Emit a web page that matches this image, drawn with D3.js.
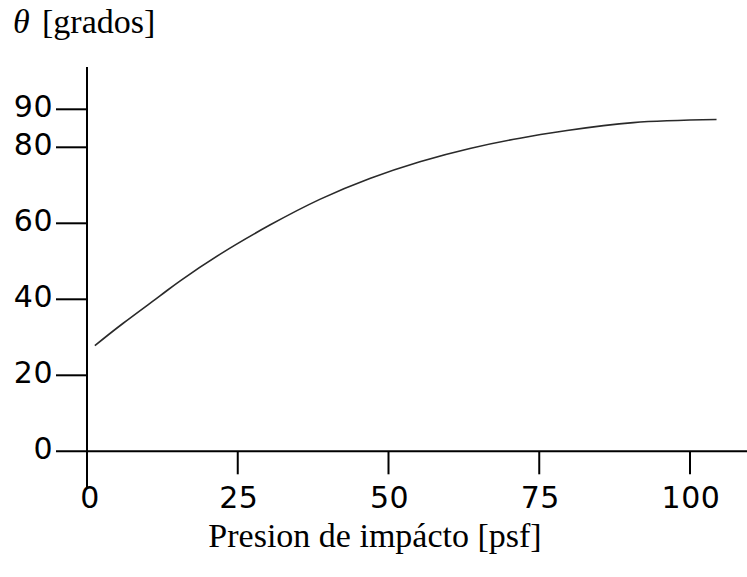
<!DOCTYPE html>
<html>
<head>
<meta charset="utf-8">
<script src="https://cdn.jsdelivr.net/npm/d3@7"></script>
<style>
  body { margin: 0; background: #fff; }
  .tick-label { font-family: "DejaVu Sans", Verdana, sans-serif; font-size: 30px; fill: #000; letter-spacing: 0.5px; }
  .title { font-family: "Liberation Serif", "Times New Roman", serif; font-size: 34px; fill: #000; }
</style>
</head>
<body>
<div id="chart"></div>
<script>
// ---- Data
const pressure = [1.3, 6.0, 12.1, 15.4, 22.1, 30.4, 38.6, 46.9, 55.2, 63.5, 71.8, 79.6, 90.6, 104.4];
const angle    = [27.8, 33.7, 40.9, 44.8, 51.9, 59.6, 66.3, 71.8, 76.2, 79.7, 82.4, 84.4, 86.5, 87.3];
const xTicks = [0, 25, 50, 75, 100];
const yTicks = [0, 20, 40, 60, 80, 90];
const yTitleSymbol = 'θ';
const yTitleUnit = '[grados]';
const xTitle = 'Presion de impácto [psf]';

const W = 747, H = 577;

const svg = d3.select('#chart').append('svg')
    .attr('width', W).attr('height', H);

// ---- Scales
const x = d3.scaleLinear().domain([0, 100]).range([87, 690]);
const y = d3.scaleLinear().domain([0, 90]).range([451.3, 109.3]);

// ---- Axis lines
const axisG = svg.append('g').attr('stroke', '#000').attr('stroke-width', 2);

// y axis, runs a bit below the x axis
axisG.append('line')
    .attr('x1', x(0)).attr('x2', x(0))
    .attr('y1', 67).attr('y2', 487);

// x axis, starts where the y ticks start
axisG.append('line')
    .attr('x1', 56).attr('x2', W)
    .attr('y1', y(0)).attr('y2', y(0));

// y ticks (outside, to the left)
axisG.selectAll('.ytick').data(yTicks.filter(d => d !== 0)).join('line')
    .attr('class', 'ytick')
    .attr('x1', 56).attr('x2', x(0))
    .attr('y1', d => y(d)).attr('y2', d => y(d));

// x ticks (hanging down)
axisG.selectAll('.xtick').data(xTicks.filter(d => d !== 0)).join('line')
    .attr('class', 'xtick')
    .attr('x1', d => x(d)).attr('x2', d => x(d))
    .attr('y1', y(0)).attr('y2', y(0) + 23);

// ---- Tick labels
svg.selectAll('.ylab').data(yTicks).join('text')
    .attr('class', 'tick-label ylab')
    .attr('x', 53)
    .attr('y', d => y(d) - 3)
    .attr('dy', '0.36em')
    .attr('text-anchor', 'end')
    .text(d => d);

svg.selectAll('.xlab').data(xTicks).join('text')
    .attr('class', 'tick-label xlab')
    .attr('x', d => x(d) + (d === 0 ? 3 : 1))
    .attr('y', 508)
    .attr('text-anchor', 'middle')
    .text(d => d);

// ---- Titles
svg.append('text').attr('class', 'title')
    .attr('x', 13).attr('y', 33)
    .style('font-style', 'italic')
    .text(yTitleSymbol);
svg.append('text').attr('class', 'title')
    .attr('x', 42).attr('y', 33)
    .text(yTitleUnit);

svg.append('text').attr('class', 'title')
    .attr('x', 375).attr('y', 547)
    .attr('text-anchor', 'middle')
    .text(xTitle);

// ---- Curve
const pts = pressure.map((p, i) => [p, angle[i]]);
svg.append('path')
    .datum(pts)
    .attr('fill', 'none')
    .attr('stroke', '#2a2a2a')
    .attr('stroke-width', 1.6)
    .attr('d', d3.line().x(d => x(d[0])).y(d => y(d[1])).curve(d3.curveNatural));
</script>
</body>
</html>
